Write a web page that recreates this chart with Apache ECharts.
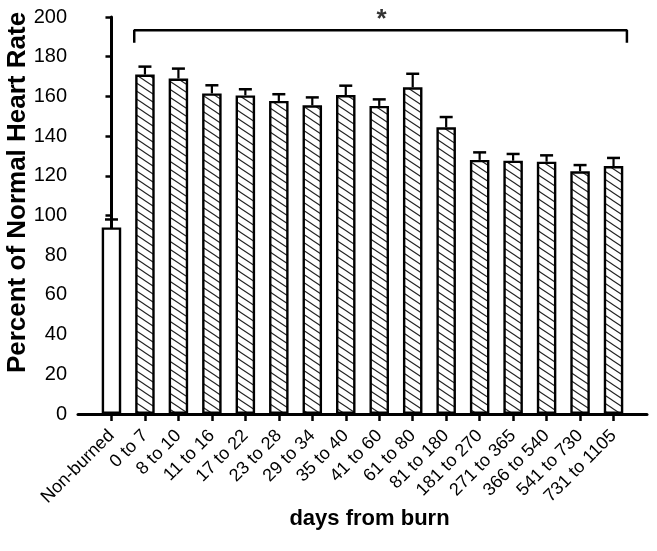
<!DOCTYPE html>
<html>
<head>
<meta charset="utf-8">
<script src="https://cdn.jsdelivr.net/npm/echarts@6/dist/echarts.min.js"></script>
<style>
html,body{margin:0;padding:0;background:#fff;}
#chart{width:657px;height:551px;}
</style>
</head>
<body>
<div id="chart"></div>
<script>
var categories = ['Non-burned','0 to 7','8 to 10','11 to 16','17 to 22','23 to 28','29 to 34','35 to 40','41 to 60','61 to 80','81 to 180','181 to 270','271 to 365','366 to 540','541 to 730','731 to 1105'];
var means = [94, 171, 169, 161.5, 160.5, 157.7, 155.5, 160.7, 155.2, 164.6, 144.4, 128, 127.6, 127.1, 122.3, 124.9];
var sem = [4, 4, 5, 4.1, 3.1, 3.4, 4, 4.7, 3.3, 6.8, 5.2, 3.8, 3.4, 3.2, 3.1, 4.1];
var yTicks = [0, 20, 40, 60, 80, 100, 120, 140, 160, 180, 200];
var bracket = [[0.68, 187], [0.68, 193.3], [15.4, 193.3], [15.4, 187]];
var starPoint = [[8.07, 198.5]];

// hatch pattern
var pc = document.createElement('canvas');
var pw = 12, ph = 8;
pc.width = pw; pc.height = ph;
var ctx = pc.getContext('2d');
ctx.fillStyle = '#fff';
ctx.fillRect(0, 0, pw, ph);
ctx.strokeStyle = '#222';
ctx.lineWidth = 1.1;
ctx.beginPath();
ctx.moveTo(-pw, -ph); ctx.lineTo(2 * pw, 2 * ph);
ctx.moveTo(-pw, 0); ctx.lineTo(pw, 2 * ph);
ctx.moveTo(0, -ph); ctx.lineTo(2 * pw, ph);
ctx.stroke();

var idx = categories.map(function (c, i) { return i; });
var barData = means.map(function (v, i) {
  return {
    value: [i, v],
    itemStyle: { color: i === 0 ? '#fff' : { image: pc, repeat: 'repeat' } }
  };
});
var errData = means.map(function (v, i) { return [i, v, v + sem[i]]; });

var chart = echarts.init(document.getElementById('chart'));
chart.setOption({
  animation: false,
  backgroundColor: '#fff',
  grid: { left: 78, right: 10, top: 17, bottom: 137, containLabel: false, outerBoundsMode: 'none' },
  xAxis: {
    type: 'value',
    min: -1,
    max: 16,
    name: 'days from burn',
    nameLocation: 'middle',
    nameGap: 94,
    nameMoveOverlap: false,
    nameTextStyle: { fontFamily: 'Liberation Sans', fontWeight: 'bold', fontSize: 22, color: '#000', padding: [0, 0, 0, 14] },
    axisLine: { show: true, onZero: true, lineStyle: { color: '#000', width: 3 } },
    axisTick: { show: true, customValues: idx, length: 7, lineStyle: { color: '#000', width: 2.5 } },
    axisLabel: {
      customValues: idx,
      rotate: 45,
      margin: 19,
      fontFamily: 'Liberation Sans',
      fontSize: 18,
      color: '#000',
      formatter: function (v) { return categories[Math.round(v)]; }
    },
    splitLine: { show: false }
  },
  yAxis: {
    type: 'value',
    min: 0,
    max: 200,
    interval: 20,
    name: 'Percent of Normal Heart Rate',
    nameLocation: 'middle',
    nameGap: 47,
    nameMoveOverlap: false,
    nameTextStyle: { fontFamily: 'Liberation Sans', fontWeight: 'bold', fontSize: 26, color: '#000', padding: [0, 0, 0, 46] },
    axisLine: { show: true, lineStyle: { color: '#000', width: 3 } },
    axisTick: { show: true, length: 6, lineStyle: { color: '#000', width: 2.5 } },
    axisLabel: {
      margin: 11,
      fontFamily: 'Liberation Sans',
      fontSize: 20,
      color: '#000',
      formatter: function (v) { return yTicks.indexOf(v) >= 0 ? String(v) : ''; }
    },
    splitLine: { show: false }
  },
  series: [
    {
      type: 'bar',
      barWidth: 19.5,
      data: barData,
      itemStyle: { borderColor: '#000', borderWidth: 2.4 },
      z: 2
    },
    {
      type: 'custom',
      data: errData,
      z: 3,
      renderItem: function (params, api) {
        var x = api.value(0);
        var p0 = api.coord([x, api.value(1)]);
        var p1 = api.coord([x, api.value(2)]);
        var half = 6.5;
        return {
          type: 'group',
          children: [
            { type: 'line', shape: { x1: p0[0], y1: p0[1], x2: p1[0], y2: p1[1] }, style: { stroke: '#000', lineWidth: 2.2 } },
            { type: 'line', shape: { x1: p1[0] - half, y1: p1[1], x2: p1[0] + half, y2: p1[1] }, style: { stroke: '#000', lineWidth: 2.5 } }
          ]
        };
      }
    },
    {
      type: 'line',
      data: bracket,
      symbol: 'none',
      lineStyle: { color: '#000', width: 2.5 },
      z: 4
    },
    {
      type: 'scatter',
      data: starPoint,
      symbolSize: 1,
      itemStyle: { color: 'rgba(0,0,0,0)' },
      clip: false,
      label: {
        show: true,
        position: 'inside',
        formatter: '*',
        fontFamily: 'Liberation Sans',
        fontWeight: 'bold',
        fontSize: 26,
        color: '#000'
      }
    }
  ]
});
</script>
</body>
</html>
